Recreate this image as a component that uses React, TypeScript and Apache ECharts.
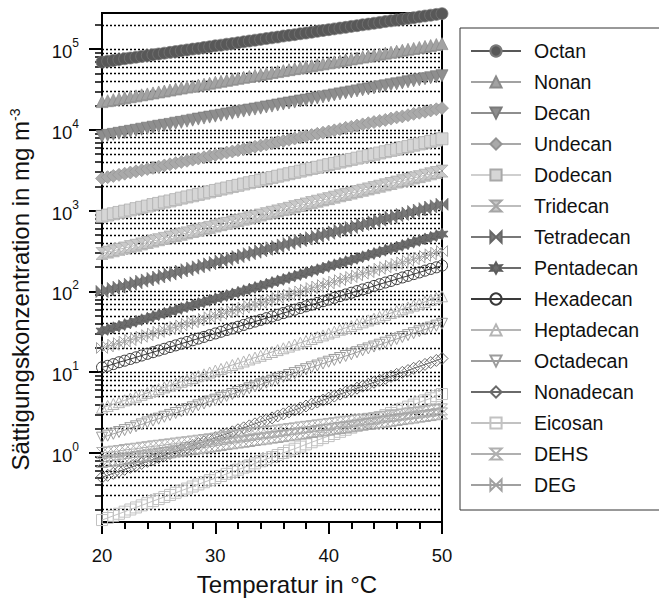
import React, { useEffect, useRef } from "react";
import * as echarts from "echarts";

const FONT = "'Liberation Sans', Arial, sans-serif";

const temps = [20,20.5,21,21.5,22,22.5,23,23.5,24,24.5,25,25.5,26,26.5,27,27.5,28,28.5,29,29.5,30,30.5,31,31.5,32,32.5,33,33.5,34,34.5,35,35.5,36,36.5,37,37.5,38,38.5,39,39.5,40,40.5,41,41.5,42,42.5,43,43.5,44,44.5,45,45.5,46,46.5,47,47.5,48,48.5,49,49.5,50];

const octan = [6.92e4,7.08e4,7.24e4,7.41e4,7.59e4,7.76e4,7.94e4,8.13e4,8.32e4,8.51e4,8.71e4,8.91e4,9.12e4,9.33e4,9.55e4,9.77e4,1.00e5,1.02e5,1.05e5,1.07e5,1.10e5,1.12e5,1.15e5,1.17e5,1.20e5,1.23e5,1.26e5,1.29e5,1.32e5,1.35e5,1.38e5,1.41e5,1.45e5,1.48e5,1.51e5,1.55e5,1.58e5,1.62e5,1.66e5,1.70e5,1.74e5,1.78e5,1.82e5,1.86e5,1.91e5,1.95e5,2.00e5,2.04e5,2.09e5,2.14e5,2.19e5,2.24e5,2.29e5,2.34e5,2.40e5,2.45e5,2.51e5,2.57e5,2.63e5,2.69e5,2.75e5];
const nonan = [2.24e4,2.30e4,2.37e4,2.43e4,2.50e4,2.57e4,2.64e4,2.72e4,2.79e4,2.87e4,2.95e4,3.03e4,3.12e4,3.21e4,3.30e4,3.39e4,3.48e4,3.58e4,3.68e4,3.78e4,3.89e4,4.00e4,4.11e4,4.23e4,4.35e4,4.47e4,4.59e4,4.72e4,4.85e4,4.99e4,5.13e4,5.27e4,5.42e4,5.57e4,5.73e4,5.89e4,6.05e4,6.22e4,6.40e4,6.58e4,6.76e4,6.95e4,7.14e4,7.35e4,7.55e4,7.76e4,7.98e4,8.20e4,8.43e4,8.67e4,8.91e4,9.16e4,9.42e4,9.68e4,9.95e4,1.02e5,1.05e5,1.08e5,1.11e5,1.14e5,1.17e5];
const decan = [8.32e3,8.56e3,8.81e3,9.07e3,9.33e3,9.61e3,9.89e3,1.02e4,1.05e4,1.08e4,1.11e4,1.14e4,1.17e4,1.21e4,1.24e4,1.28e4,1.32e4,1.36e4,1.40e4,1.44e4,1.48e4,1.52e4,1.57e4,1.61e4,1.66e4,1.71e4,1.76e4,1.81e4,1.86e4,1.92e4,1.97e4,2.03e4,2.09e4,2.15e4,2.21e4,2.28e4,2.34e4,2.41e4,2.48e4,2.56e4,2.63e4,2.71e4,2.79e4,2.87e4,2.95e4,3.04e4,3.13e4,3.22e4,3.31e4,3.41e4,3.51e4,3.61e4,3.72e4,3.82e4,3.94e4,4.05e4,4.17e4,4.29e4,4.42e4,4.55e4,4.68e4];
const undecan = [2.51e3,2.60e3,2.69e3,2.78e3,2.87e3,2.97e3,3.07e3,3.17e3,3.28e3,3.39e3,3.51e3,3.63e3,3.75e3,3.88e3,4.01e3,4.15e3,4.29e3,4.43e3,4.58e3,4.74e3,4.90e3,5.06e3,5.24e3,5.41e3,5.60e3,5.79e3,5.98e3,6.19e3,6.40e3,6.61e3,6.84e3,7.07e3,7.31e3,7.56e3,7.82e3,8.08e3,8.36e3,8.64e3,8.93e3,9.24e3,9.55e3,9.87e3,1.02e4,1.06e4,1.09e4,1.13e4,1.17e4,1.21e4,1.25e4,1.29e4,1.33e4,1.38e4,1.43e4,1.47e4,1.52e4,1.58e4,1.63e4,1.68e4,1.74e4,1.80e4,1.86e4];
const dodecan = [851,883,916,951,986,1020,1060,1100,1140,1190,1230,1280,1320,1370,1430,1480,1530,1590,1650,1710,1780,1850,1910,1990,2060,2140,2220,2300,2390,2480,2570,2670,2770,2870,2980,3090,3210,3330,3450,3580,3720,3850,4000,4150,4310,4470,4630,4810,4990,5180,5370,5570,5780,6000,6220,6460,6700,6950,7210,7480,7760];
const tridecan = [295,307,319,332,345,359,373,388,404,420,437,454,472,491,511,531,552,574,597,621,646,671,698,726,755,785,817,849,883,918,955,993,1030,1070,1120,1160,1210,1260,1310,1360,1410,1470,1530,1590,1650,1720,1790,1860,1930,2010,2090,2170,2260,2350,2440,2540,2640,2750,2860,2970,3090];
const tetradecan = [100,104,109,113,118,123,128,134,139,145,151,158,164,171,179,186,194,202,211,220,229,239,249,259,270,282,294,306,319,333,347,361,377,393,409,427,445,463,483,504,525,547,570,594,619,646,673,701,731,762,794,828,863,899,938,977,1020,1060,1110,1150,1200];
const pentadecan = [32.4,33.9,35.5,37.2,38.9,40.7,42.7,44.7,46.8,49.0,51.3,53.7,56.2,58.9,61.7,64.6,67.6,70.8,74.1,77.6,81.3,85.1,89.1,93.3,97.7,102,107,112,117,123,129,135,141,148,155,162,170,178,186,195,204,214,224,234,245,257,269,282,295,309,324,339,355,372,389,407,427,447,468,490,513];
const hexadecan = [11.5,12.0,12.6,13.3,13.9,14.6,15.3,16.1,16.9,17.7,18.6,19.5,20.5,21.5,22.6,23.7,24.9,26.1,27.4,28.8,30.2,31.7,33.3,34.9,36.6,38.5,40.4,42.4,44.5,46.7,49.0,51.4,54.0,56.6,59.4,62.4,65.5,68.7,72.1,75.7,79.4,83.4,87.5,91.8,96.4,101,106,111,117,123,129,135,142,149,156,164,172,181,190,199,209];
const heptadecan = [3.63,3.83,4.04,4.26,4.49,4.73,4.99,5.26,5.55,5.85,6.17,6.50,6.85,7.23,7.62,8.04,8.47,8.93,9.42,9.93,10.5,11.0,11.6,12.3,12.9,13.6,14.4,15.2,16.0,16.9,17.8,18.8,19.8,20.8,22.0,23.2,24.4,25.8,27.2,28.6,30.2,31.8,33.6,35.4,37.3,39.4,41.5,43.8,46.1,48.6,51.3,54.1,57.0,60.1,63.4,66.8,70.5,74.3,78.3,82.6,87.1];
const octadecan = [1.55,1.64,1.73,1.82,1.92,2.03,2.14,2.26,2.39,2.52,2.66,2.81,2.96,3.13,3.30,3.49,3.68,3.89,4.10,4.33,4.57,4.83,5.09,5.38,5.68,5.99,6.32,6.68,7.05,7.44,7.85,8.29,8.75,9.24,9.75,10.3,10.9,11.5,12.1,12.8,13.5,14.2,15.0,15.9,16.7,17.7,18.7,19.7,20.8,21.9,23.2,24.5,25.8,27.3,28.8,30.4,32.1,33.8,35.7,37.7,39.8];
const nonadecan = [0.501,0.530,0.561,0.594,0.628,0.665,0.703,0.744,0.787,0.833,0.881,0.932,0.986,1.04,1.10,1.17,1.24,1.31,1.38,1.46,1.55,1.64,1.73,1.83,1.94,2.05,2.17,2.30,2.43,2.57,2.72,2.88,3.05,3.23,3.41,3.61,3.82,4.04,4.28,4.52,4.79,5.07,5.36,5.67,6.00,6.35,6.71,7.10,7.52,7.95,8.41,8.90,9.42,9.97,10.5,11.2,11.8,12.5,13.2,14.0,14.8];
const eicosan = [0.148,0.157,0.167,0.177,0.188,0.200,0.212,0.225,0.239,0.254,0.269,0.286,0.303,0.322,0.342,0.363,0.385,0.409,0.435,0.461,0.490,0.520,0.552,0.586,0.622,0.661,0.701,0.745,0.791,0.839,0.891,0.946,1.00,1.07,1.13,1.20,1.28,1.36,1.44,1.53,1.62,1.72,1.83,1.94,2.06,2.19,2.32,2.47,2.62,2.78,2.95,3.13,3.33,3.53,3.75,3.98,4.23,4.49,4.76,5.06,5.37];
const dehsA = [1.00,1.02,1.04,1.06,1.09,1.11,1.13,1.16,1.18,1.21,1.23,1.26,1.28,1.31,1.34,1.36,1.39,1.42,1.45,1.48,1.51,1.55,1.58,1.61,1.64,1.68,1.71,1.75,1.79,1.82,1.86,1.90,1.94,1.98,2.02,2.07,2.11,2.15,2.20,2.24,2.29,2.34,2.39,2.44,2.49,2.54,2.59,2.65,2.70,2.76,2.82,2.88,2.94,3.00,3.06,3.13,3.19,3.26,3.33,3.40,3.47];
const dehsB = [0.776,0.794,0.813,0.832,0.851,0.871,0.891,0.912,0.933,0.955,0.977,1.00,1.02,1.05,1.07,1.10,1.12,1.15,1.17,1.20,1.23,1.26,1.29,1.32,1.35,1.38,1.41,1.45,1.48,1.51,1.55,1.58,1.62,1.66,1.70,1.74,1.78,1.82,1.86,1.91,1.95,2.00,2.04,2.09,2.14,2.19,2.24,2.29,2.34,2.40,2.45,2.51,2.57,2.63,2.69,2.75,2.82,2.88,2.95,3.02,3.09];
const deg = [20.0,20.9,21.9,22.9,24.0,25.1,26.3,27.5,28.8,30.2,31.6,33.1,34.7,36.3,38.0,39.8,41.7,43.7,45.7,47.9,50.1,52.5,55.0,57.5,60.3,63.1,66.1,69.2,72.4,75.9,79.4,83.2,87.1,91.2,95.5,100,105,110,115,120,126,132,138,145,151,158,166,174,182,191,200,209,219,229,240,251,263,275,288,302,316];

const legendNames = ["Octan","Nonan","Decan","Undecan","Dodecan","Tridecan","Tetradecan","Pentadecan","Hexadecan","Heptadecan","Octadecan","Nonadecan","Eicosan","DEHS","DEG"];

const majorTicks = [1, 10, 100, 1000, 10000, 100000];
const minorMantissas = [1, 2, 3, 4, 5, 6, 7, 8, 9];
const decades = [0.1, 1, 10, 100, 1000, 10000, 100000];

const HOURGLASS = "path://M0,0L10,0L5,5L10,10L0,10L5,5Z";
const BOWTIE = "path://M0,0L5,5L0,10ZM10,0L5,5L10,10Z";
const STAR = "path://M5,0L6.3,2.8L9.3,2.5L7.5,5L9.3,7.5L6.3,7.2L5,10L3.7,7.2L0.7,7.5L2.5,5L0.7,2.5L3.7,2.8Z";
const TRI_DOWN = "path://M0,0L10,0L5,8.7Z";
const TRI_UP = "path://M5,0L10,8.7L0,8.7Z";

type Style = { name: string; values: number[]; symbol: string; size: number; fill: string; border: string; line: string; open?: boolean };

const seriesDefs: Style[] = [
  { name: "Octan", values: octan, symbol: "circle", size: 12, fill: "#585858", border: "#7a7a7a", line: "#585858" },
  { name: "Nonan", values: nonan, symbol: TRI_UP, size: 12, fill: "#a2a2a2", border: "#8a8a8a", line: "#a2a2a2" },
  { name: "Decan", values: decan, symbol: TRI_DOWN, size: 12, fill: "#8e8e8e", border: "#7a7a7a", line: "#8e8e8e" },
  { name: "Undecan", values: undecan, symbol: "diamond", size: 13, fill: "#a9a9a9", border: "#939393", line: "#a9a9a9" },
  { name: "Dodecan", values: dodecan, symbol: "rect", size: 12, fill: "#d6d6d6", border: "#a8a8a8", line: "#cfcfcf" },
  { name: "Tridecan", values: tridecan, symbol: HOURGLASS, size: 12, fill: "#c9c9c9", border: "#a5a5a5", line: "#bdbdbd" },
  { name: "Tetradecan", values: tetradecan, symbol: BOWTIE, size: 12, fill: "#787878", border: "#666666", line: "#787878" },
  { name: "Pentadecan", values: pentadecan, symbol: STAR, size: 12, fill: "#6c6c6c", border: "#5c5c5c", line: "#6c6c6c" },
  { name: "Hexadecan", values: hexadecan, symbol: "circle", size: 11, fill: "none", border: "#3a3a3a", line: "#3a3a3a", open: true },
  { name: "Heptadecan", values: heptadecan, symbol: TRI_UP, size: 11, fill: "none", border: "#b5b5b5", line: "#b5b5b5", open: true },
  { name: "Octadecan", values: octadecan, symbol: TRI_DOWN, size: 11, fill: "none", border: "#9c9c9c", line: "#9c9c9c", open: true },
  { name: "Nonadecan", values: nonadecan, symbol: "diamond", size: 12, fill: "none", border: "#6a6a6a", line: "#6a6a6a", open: true },
  { name: "Eicosan", values: eicosan, symbol: "rect", size: 11, fill: "none", border: "#c2c2c2", line: "#c2c2c2", open: true },
  { name: "DEHS", values: dehsA, symbol: HOURGLASS, size: 11, fill: "none", border: "#b0b0b0", line: "#b0b0b0", open: true },
  { name: "DEHS", values: dehsB, symbol: HOURGLASS, size: 11, fill: "none", border: "#a6a6a6", line: "#a6a6a6", open: true },
  { name: "DEG", values: deg, symbol: BOWTIE, size: 11, fill: "none", border: "#a0a0a0", line: "#a0a0a0", open: true },
];

export default function App() {
  const ref = useRef<HTMLDivElement>(null);
  useEffect(() => {
    if (!ref.current) return;
    const chart = echarts.init(ref.current, null, { renderer: "svg" });
    const minorVals: number[] = [];
    decades.forEach((d) => minorMantissas.forEach((m) => minorVals.push(+(m * d).toPrecision(3))));
    const yMin = 0.14;
    const yMax = 280000;
    const minorIn = minorVals.filter((v) => v >= yMin && v <= yMax);

    const series = seriesDefs.map((s) => ({
      type: "line",
      name: s.name,
      data: temps.map((t, i) => [t, s.values[i]]),
      symbol: s.symbol,
      symbolSize: s.size,
      showAllSymbol: true,
      clip: false,
      lineStyle: { color: s.line, width: 1 },
      itemStyle: s.open
        ? { color: "rgba(255,255,255,0)", borderColor: s.border, borderWidth: 1 }
        : { color: s.fill, borderColor: s.border, borderWidth: 0.7 },
      emphasis: { disabled: true },
      z: 3,
    }));

    chart.setOption({
      animation: false,
      grid: {
        left: 100, right: 217, top: 13, bottom: 76,
        show: true, borderColor: "#000", borderWidth: 2,
      },
      legend: {
        data: legendNames,
        orient: "vertical",
        left: 460,
        top: 28,
        padding: [13, 60, 15, 10],
        itemGap: 11,
        itemWidth: 50,
        itemHeight: 14,
        borderColor: "#333",
        borderWidth: 1,
        selectedMode: false,
        textStyle: { fontFamily: FONT, fontSize: 19.5, lineHeight: 20, color: "#111", padding: [0, 0, 0, 8] },
      },
      xAxis: {
        type: "value",
        min: 20,
        max: 50,
        interval: 10,
        name: "Temperatur in °C",
        nameLocation: "middle",
        nameGap: 50,
        nameTextStyle: { fontFamily: FONT, fontSize: 24, color: "#111", padding: [0, 0, 0, 30] },
        axisLine: { show: true, onZero: false, lineStyle: { color: "#000", width: 2 } },
        axisTick: { show: true, length: 12, lineStyle: { color: "#000", width: 2 } },
        minorTick: { show: true, splitNumber: 5, length: 7, lineStyle: { color: "#000", width: 2 } },
        splitLine: { show: false },
        axisLabel: { show: true, fontFamily: FONT, fontSize: 18.5, color: "#111", margin: 24 },
      },
      yAxis: [
        {
          type: "log",
          min: yMin,
          max: yMax,
          position: "left",
          name: "Sättigungskonzentration in mg m{s|-3}",
          nameLocation: "middle",
          nameGap: 70,
          nameTextStyle: {
            fontFamily: FONT, fontSize: 24, color: "#111", padding: [0, 44, 0, 0],
            rich: { s: { fontFamily: FONT, fontSize: 14, color: "#111", verticalAlign: "top", lineHeight: 14 } },
          },
          axisLine: { show: true, onZero: false, lineStyle: { color: "#000", width: 2 } },
          axisTick: { show: true, customValues: majorTicks, length: 13, lineStyle: { color: "#000", width: 2 } },
          axisLabel: {
            show: true,
            customValues: majorTicks,
            margin: 23,
            formatter: (v: number) => `{b|10}{s|${Math.round(Math.log10(v))}}`,
            rich: {
              b: { fontFamily: FONT, fontSize: 18.5, color: "#111", lineHeight: 24, verticalAlign: "bottom" },
              s: { fontFamily: FONT, fontSize: 12, color: "#111", lineHeight: 12, verticalAlign: "top" },
            },
          },
          splitLine: { show: false },
        },
        {
          type: "log",
          min: yMin,
          max: yMax,
          position: "left",
          axisLine: { show: false, onZero: false },
          axisTick: { show: true, customValues: minorIn, length: 7, lineStyle: { color: "#000", width: 1.5 } },
          axisLabel: { show: false },
          splitLine: { show: true, lineStyle: { color: "#000", width: 1.3, type: [2, 2] } },
        },
      ],
      series,
    });
    return () => chart.dispose();
  }, []);
  return <div ref={ref} style={{ position: "absolute", left: 0, top: 0, width: 659, height: 601 }} />;
}
